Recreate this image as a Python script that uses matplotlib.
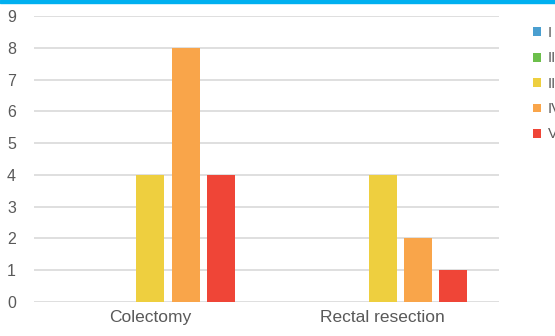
import matplotlib
matplotlib.use('Agg')

import matplotlib.pyplot as plt
import numpy as np

# 数据
categories = ['Colectomy', 'Rectal resection']
series = ['I', 'II', 'III', 'IV', 'V']
values = {
    'I':   [0, 0],
    'II':  [0, 0],
    'III': [4, 4],
    'IV':  [8, 2],
    'V':   [4, 1],
}
colors = ['#4a9fd0', '#6cbf4b', '#eecf3f', '#f9a54a', '#ef4537']

plt.rcParams['font.family'] = ['Liberation Sans', 'DejaVu Sans']

fig = plt.figure(figsize=(5.55, 3.36), dpi=100)
ax = fig.add_axes([34/555, 1 - 302/336, 465/555, 286/336])

x = np.arange(len(categories))
step, width = 0.152, 0.12
for i, name in enumerate(series):
    ax.bar(x + (i - 2) * step, values[name], width, color=colors[i],
           label=name, zorder=3)

ax.set_xlim(-0.5, len(categories) - 0.5)
ax.set_ylim(0, 9)
ax.set_yticks(range(0, 10))
ax.set_xticks(x)
ax.set_xticklabels(categories)
ax.yaxis.grid(True, color='#d9d9d9', lw=1.2, zorder=0)
for s in ax.spines.values():
    s.set_visible(False)
ax.tick_params(axis='y', length=0, pad=13, labelsize=11.5, colors='#595959')
ax.tick_params(axis='x', length=0, pad=6, labelsize=12.5, colors='#595959')

# 顶部蓝条
fig.patches.append(plt.Rectangle((0, 1 - 3/336), 1, 3/336, transform=fig.transFigure,
                                 color='#00b0f0', zorder=5))

fig.legend(loc='upper left', bbox_to_anchor=(533/555, 1 - 26/336),
           frameon=False, fontsize=10.5, labelcolor='#595959',
           handlelength=0.55, handleheight=0.55, handletextpad=0.45,
           labelspacing=0.78, borderaxespad=0, borderpad=0)

fig.savefig('out.png', dpi=100)
